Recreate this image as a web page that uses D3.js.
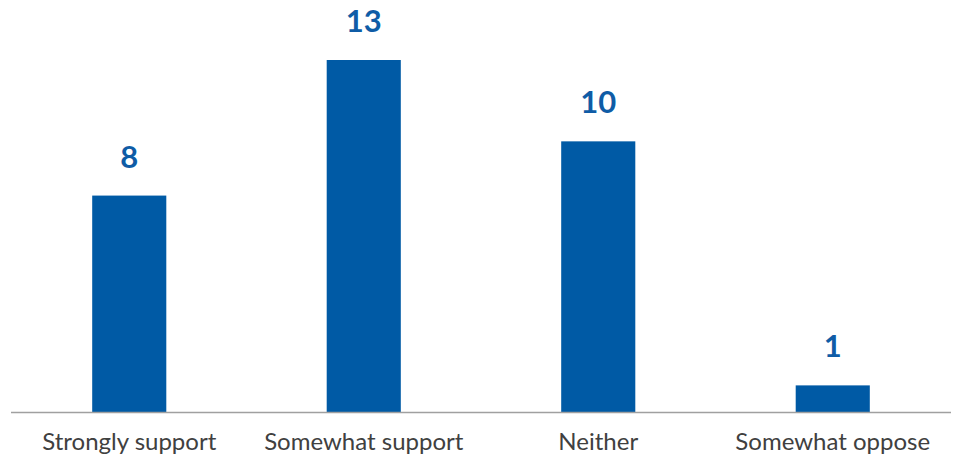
<!DOCTYPE html>
<html><head><meta charset="utf-8">
<script src="https://cdn.jsdelivr.net/npm/d3@7"></script>
<style>body{margin:0;background:#fff}svg{display:block}</style>
</head><body>
<script>
const categories = ["Strongly support", "Somewhat support", "Neither", "Somewhat oppose"];
const values = [8, 13, 10, 1];

const W = 954, H = 458;
const svg = d3.select("body").append("svg").attr("width", W).attr("height", H);
const baseY = 412.5;
const x = d3.scaleBand().domain(categories).range([12, 950]).paddingInner(0.684).paddingOuter(0.342);
const y = d3.scaleLinear().domain([0, 13]).range([baseY, 60]);

svg.selectAll("rect.bar").data(values).join("rect")
  .attr("class", "bar")
  .attr("x", (d, i) => x(categories[i]))
  .attr("width", x.bandwidth())
  .attr("y", d => y(d))
  .attr("height", d => baseY - y(d))
  .attr("fill", "#005aa5");

svg.append("line").attr("x1", 11).attr("x2", 951).attr("y1", baseY).attr("y2", baseY)
  .attr("stroke", "#a0a0a0").attr("stroke-width", 1.5);

svg.selectAll("text.val").data(values).join("text")
  .attr("class", "val")
  .attr("x", (d, i) => x(categories[i]) + x.bandwidth() / 2)
  .attr("y", d => y(d) - 28)
  .attr("text-anchor", "middle")
  .attr("font-family", "Lato")
  .attr("font-weight", "bold")
  .attr("font-size", 31)
  .attr("fill", "#0f5ca6")
  .text(d => d);

svg.selectAll("text.cat").data(categories).join("text")
  .attr("class", "cat")
  .attr("x", d => x(d) + x.bandwidth() / 2)
  .attr("y", 450)
  .attr("text-anchor", "middle")
  .attr("font-family", "Lato")
  .attr("font-size", 24)
  .attr("fill", "#404040")
  .text(d => d);
</script>
</body></html>
